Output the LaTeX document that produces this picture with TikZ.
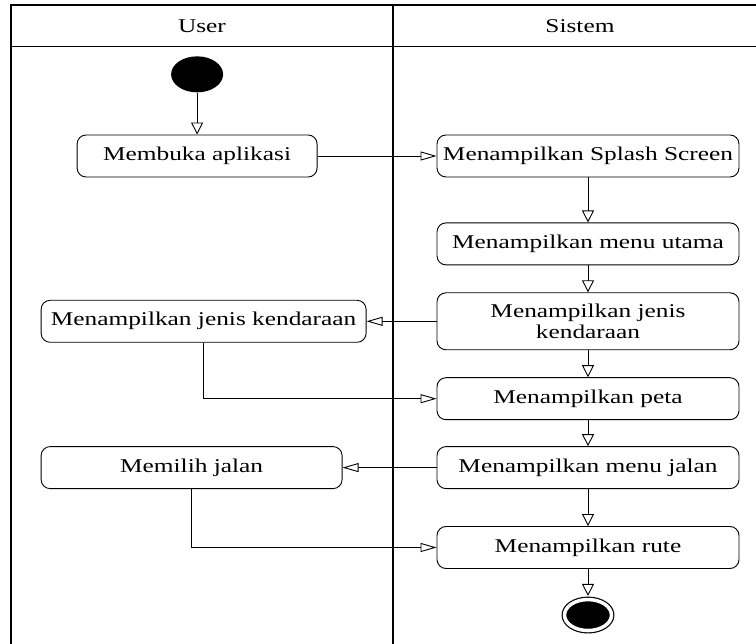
\documentclass[tikz,border=0pt]{standalone}
\usepackage{fontspec}
\setmainfont{Liberation Serif}[FakeStretch=1.3]
\usepackage{tikz}
\usetikzlibrary{arrows.meta, positioning, shapes.geometric}

\begin{document}
\begin{tikzpicture}[x=1pt, y=-1pt, font=\fontsize{19.5}{21}\selectfont, node distance=27pt,
  act/.style={draw, rounded corners=9pt, line width=0.9pt, minimum height=42pt, inner sep=2pt, align=center},
  vflow/.style={-{Triangle[open, length=12pt, width=12pt]}, line width=0.9pt},
  hflow/.style={-{Triangle[open, length=16pt, width=9pt]}, line width=0.9pt},
  lane/.style={line width=1.6pt}]
\useasboundingbox (0,0) rectangle (756,644);
\draw[lane] (11,660) -- (11,5) -- (768,5);
\draw[line width=1pt] (11,47) -- (768,47);
\draw[lane] (393,5) -- (393,660);
\node (user) at (202,26) {User};
\node (sistem) at (580,26) {Sistem};

\node[act, minimum width=302pt] (splash) at (588,156) {Menampilkan Splash Screen};
\node[act, minimum width=302pt, below=45pt of splash] (menu) {Menampilkan menu utama};
\node[act, minimum width=302pt, minimum height=57pt, below=of menu] (jenisS) {Menampilkan jenis\\kendaraan};
\node[act, minimum width=302pt, below=of jenisS] (peta) {Menampilkan peta};
\node[act, minimum width=302pt, below=26pt of peta] (menuJ) {Menampilkan menu jalan};
\node[act, minimum width=302pt, below=37pt of menuJ] (rute) {Menampilkan rute};
\node[ellipse, draw, fill=black, double, double distance=3.5pt, line width=1.2pt, minimum width=47pt, minimum height=31pt, inner sep=0pt, below=30pt of rute] (stop) {};

\node[act, minimum width=240pt, left=119pt of splash] (membuka) {Membuka aplikasi};
\node[act, minimum width=325pt, left=70pt of jenisS] (jenisU) {Menampilkan jenis kendaraan};
\node[act, minimum width=301pt, left=94pt of menuJ] (memilih) {Memilih jalan};
\node[ellipse, fill=black, minimum width=52pt, minimum height=36pt, inner sep=0pt, above=42pt of membuka] (start) {};

\draw[vflow] (start) -- (membuka);
\draw[hflow] (membuka) -- (splash);
\draw[vflow] (splash) -- (menu);
\draw[vflow] (menu) -- (jenisS);
\draw[hflow] (jenisS) -- (jenisU);
\draw[hflow] (jenisU) |- (peta);
\draw[vflow] (jenisS) -- (peta);
\draw[vflow] (peta) -- (menuJ);
\draw[hflow] (menuJ) -- (memilih);
\draw[hflow] (memilih) |- (rute);
\draw[vflow] (menuJ) -- (rute);
\draw[vflow, shorten >=3pt] (rute) -- (stop);
\end{tikzpicture}
\end{document}
